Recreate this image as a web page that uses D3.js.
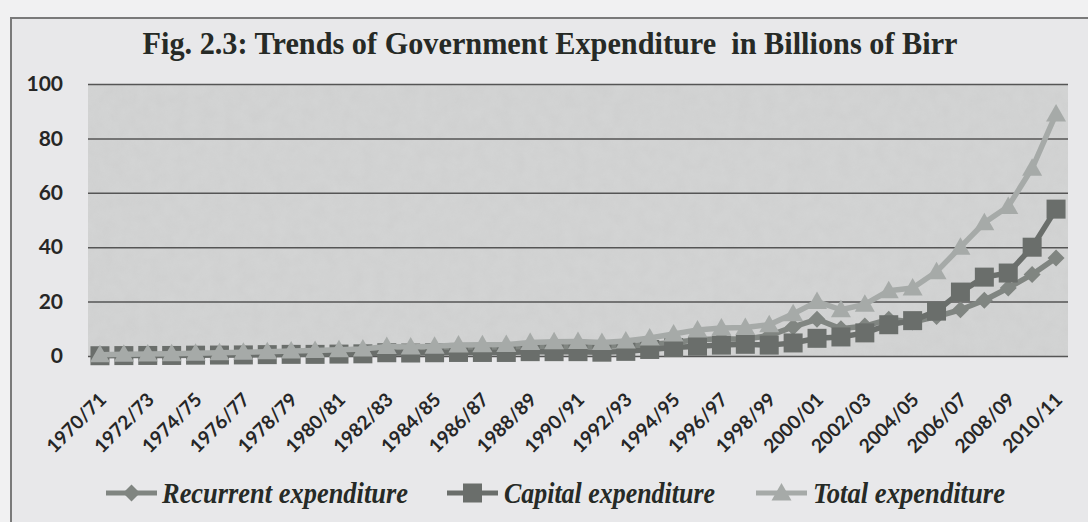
<!DOCTYPE html>
<html>
<head>
<meta charset="utf-8">
<script src="https://cdn.jsdelivr.net/npm/d3@7"></script>
<style>
  html, body { margin: 0; padding: 0; background: #f1f1f2; }
  #chart { width: 1088px; height: 522px; }
</style>
</head>
<body>
<div id="chart"></div>
<script>
//Datos del gráfico
const years = ['1970/71','1971/72','1972/73','1973/74','1974/75','1975/76','1976/77','1977/78','1978/79','1979/80',
    '1980/81','1981/82','1982/83','1983/84','1984/85','1985/86','1986/87','1987/88','1988/89','1989/90',
    '1990/91','1991/92','1992/93','1993/94','1994/95','1995/96','1996/97','1997/98','1998/99','1999/00',
    '2000/01','2001/02','2002/03','2003/04','2004/05','2005/06','2006/07','2007/08','2008/09','2009/10','2010/11'];

const recurrent = [0.4,0.45,0.5,0.6,0.7,0.85,1.0,1.1,1.2,1.4,
    1.6,1.8,2.3,2.2,2.4,2.7,2.8,2.9,3.4,3.6,
    3.7,3.6,3.8,4.2,5.0,6.0,6.3,6.2,7.5,10.7,
    13.5,10,11,13.5,12.5,14.5,17,20.5,25,30,36];

const capital = [0.1,0.15,0.2,0.2,0.3,0.35,0.4,0.5,0.6,0.6,
    0.7,0.8,1.2,1.1,1.2,1.3,1.3,1.3,1.6,1.6,
    1.6,1.4,1.7,2.4,3.1,3.6,4.0,4.3,4.0,4.8,
    6.5,7,8.5,11.5,13,16.5,23.5,29,30.5,40,54];

const total = [0.5,0.6,0.7,0.8,1.0,1.2,1.4,1.6,1.8,2.0,
    2.3,2.6,3.5,3.3,3.6,4.0,4.1,4.2,5.0,5.2,
    5.3,5.0,5.5,6.6,8.1,9.6,10.3,10.5,11.5,15.5,
    20,17,19,24,25,31,40,49,55,69,89];

const yTicks = [0, 20, 40, 60, 80, 100];

const seriesNames = ['Recurrent expenditure', 'Capital expenditure', 'Total expenditure'];

//Colores fijos
const COLOR_RECURRENT = '#808581',
COLOR_CAPITAL = '#6a6e6b',
COLOR_TOTAL = '#a6aaa8';

const series = [
    { name: seriesNames[0], values: recurrent, color: COLOR_RECURRENT, shape: 'diamond' },
    { name: seriesNames[1], values: capital, color: COLOR_CAPITAL, shape: 'square' },
    { name: seriesNames[2], values: total, color: COLOR_TOTAL, shape: 'triangle' }
];

let margin = {top: 84, right: 20, bottom: 166, left: 88},
    W = 1088, H = 522,
    width = W - margin.left - margin.right,
    height = H - margin.top - margin.bottom;

let svg = d3.select('#chart')
    .append('svg')
        .attr('width', W)
        .attr('height', H);

//Fondo y marco
svg.append('rect')
    .attr('x', 11).attr('y', 18)
    .attr('width', W).attr('height', H)
    .attr('fill', '#e8e8ea')
    .attr('stroke', '#7a7a7a')
    .attr('stroke-width', 2);

//Textura del área del gráfico
let defs = svg.append('defs');
let filter = defs.append('filter').attr('id', 'noise').attr('x', 0).attr('y', 0).attr('width', '100%').attr('height', '100%');
filter.append('feTurbulence').attr('type', 'fractalNoise').attr('baseFrequency', 0.08).attr('numOctaves', 3).attr('seed', 4).attr('result', 'n');
filter.append('feColorMatrix').attr('in', 'n').attr('type', 'matrix')
    .attr('values', '0 0 0 0 0.5  0 0 0 0 0.5  0 0 0 0 0.5  0 0 0 0.35 -0.05');

let g = svg.append('g')
    .attr('transform', 'translate(' + margin.left + ',' + margin.top + ')');

g.append('rect')
    .attr('width', width).attr('height', height)
    .attr('fill', '#d3d4d4');

g.append('rect')
    .attr('width', width).attr('height', height)
    .attr('fill', '#fff')
    .attr('filter', 'url(#noise)')
    .attr('opacity', 0.6);

let x = d3.scalePoint()
    .domain(years)
    .range([0, width])
    .padding(0.5);

let y = d3.scaleLinear()
    .domain([0, 100])
    .range([height, 0]);

//Eje Y con líneas de cuadrícula
let yAxis = function(sel) {
    sel.call(d3.axisLeft(y).tickValues(yTicks).tickSize(-width).tickPadding(25));
    sel.call(function(g){ g.select('.domain').remove(); });
    sel.selectAll('.tick line')
        .attr('stroke', '#555')
        .attr('stroke-width', 1.5);
    sel.selectAll('.tick text')
        .attr('font-family', 'Lato, sans-serif')
        .attr('font-weight', 700)
        .attr('font-size', '21px')
        .attr('fill', '#262626');
};

g.append('g').call(yAxis);

//Eje X
let xAxis = function(sel) {
    sel.call(d3.axisBottom(x).tickValues(years.filter(function(d, i) { return i % 2 == 0; })).tickSize(0));
    sel.call(function(g){ g.select('.domain').remove(); });
    sel.selectAll('.tick text')
        .attr('font-family', 'Lato, sans-serif')
        .attr('font-weight', 700)
        .attr('font-size', '19px')
        .attr('fill', '#262626')
        .attr('text-anchor', 'end')
        .attr('dy', 0)
        .attr('y', 0)
        .attr('transform', 'translate(7,45) rotate(-45)');
};

g.append('g')
    .attr('transform', 'translate(0,' + height + ')')
    .call(xAxis);

//Formas de los marcadores
function markerPath(shape) {
    if (shape == 'diamond') return 'M0,-8.5L8.5,0L0,8.5L-8.5,0Z';
    if (shape == 'square') return 'M-9.5,-9.5H9.5V9.5H-9.5Z';
    return 'M0,-10L10,7.5L-10,7.5Z';
}

let line = d3.line()
    .x(function(d, i) { return x(years[i]); })
    .y(function(d) { return y(d); });

series.forEach(function(s) {
    let sg = g.append('g').attr('class', 'serie');
    sg.append('path')
        .attr('d', line(s.values))
        .attr('fill', 'none')
        .attr('stroke', s.color)
        .attr('stroke-width', 5.5)
        .attr('stroke-linejoin', 'round');
    sg.selectAll('path.marker')
        .data(s.values)
        .enter()
        .append('path')
        .attr('class', 'marker')
        .attr('d', markerPath(s.shape))
        .attr('transform', function(d, i) { return 'translate(' + x(years[i]) + ',' + y(d) + ')'; })
        .attr('fill', s.color);
});

//Título
svg.append('text')
    .attr('x', 550).attr('y', 54)
    .attr('text-anchor', 'middle')
    .attr('font-family', '"Liberation Serif", serif')
    .attr('font-weight', 700)
    .attr('font-size', '31px')
    .attr('fill', '#262a26')
    .attr('textLength', 815)
    .attr('lengthAdjust', 'spacingAndGlyphs')
    .style('white-space', 'pre')
    .text('Fig. 2.3: Trends of Government Expenditure  in Billions of Birr');

//Leyenda
let legendPos = [
    { lx: 106, tx: 162, tw: 246 },
    { lx: 447, tx: 504, tw: 211 },
    { lx: 756, tx: 813, tw: 192 }
];
let ly = 493;

series.forEach(function(s, i) {
    let p = legendPos[i];
    let lg = svg.append('g');
    lg.append('line')
        .attr('x1', p.lx).attr('x2', p.lx + 51)
        .attr('y1', ly).attr('y2', ly)
        .attr('stroke', s.color)
        .attr('stroke-width', 5);
    lg.append('path')
        .attr('d', markerPath(s.shape))
        .attr('transform', 'translate(' + (p.lx + 25.5) + ',' + ly + ')')
        .attr('fill', s.color);
    lg.append('text')
        .attr('x', p.tx).attr('y', ly + 10)
        .attr('font-family', '"Liberation Serif", serif')
        .attr('font-weight', 700)
        .attr('font-style', 'italic')
        .attr('font-size', '29px')
        .attr('fill', '#262a26')
        .attr('textLength', p.tw)
        .attr('lengthAdjust', 'spacingAndGlyphs')
        .text(s.name);
});
</script>
</body>
</html>
